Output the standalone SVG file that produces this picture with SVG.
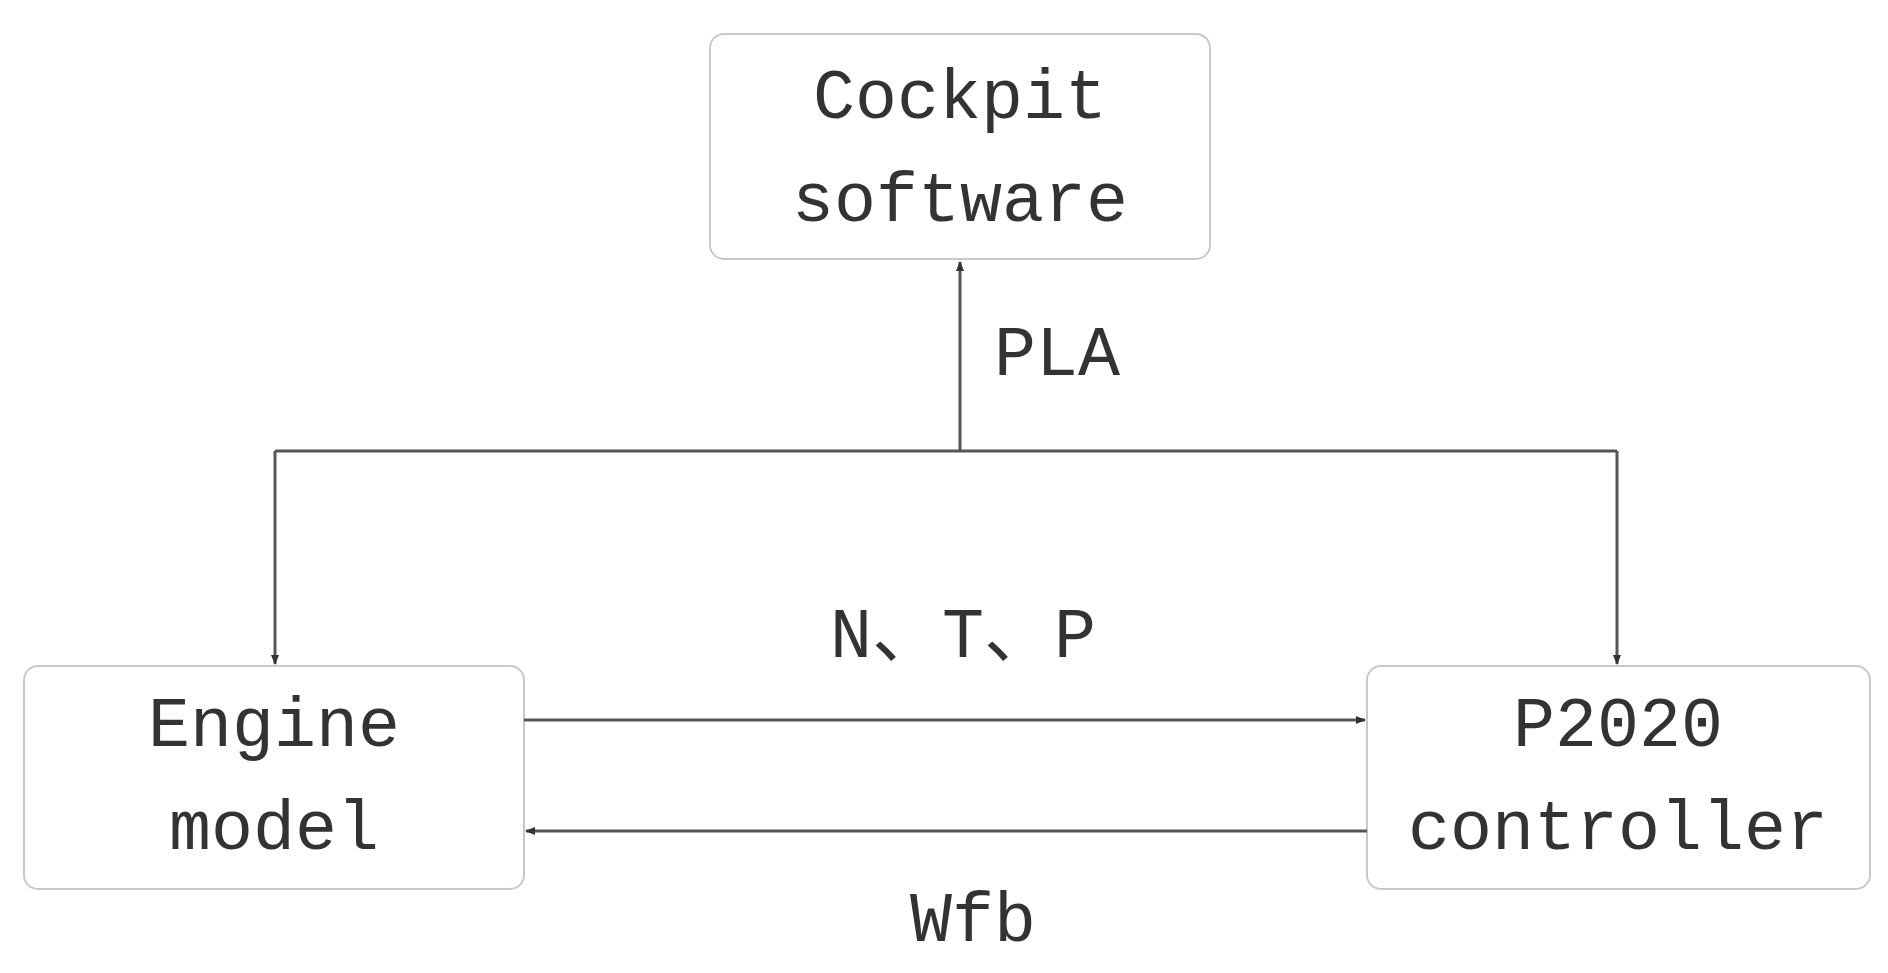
<svg xmlns="http://www.w3.org/2000/svg" width="1888" height="973" viewBox="0 0 1888 973">
<defs>
<style>
.box{fill:#fff;stroke:#c8c8c8;stroke-width:2}
.t{font-family:"Liberation Mono","Noto Sans CJK SC",monospace;font-size:70px;fill:#333;text-anchor:middle}
.c{stroke:#555;stroke-width:3;fill:none}
</style>
<marker id="a" markerWidth="10" markerHeight="10" refX="9" refY="5" orient="auto" markerUnits="userSpaceOnUse"><path d="M0,1 L10,5 L0,9z" fill="#333"/></marker>
</defs>
<rect width="1888" height="973" fill="#fff"/>
<g id="cockpit"><rect class="box" x="710" y="34" width="500" height="225" rx="14"/><text class="t" x="960" y="118">Cockpit</text><text class="t" x="960" y="221">software</text></g>
<g id="engine"><rect class="box" x="24" y="666" width="500" height="223" rx="14"/><text class="t" x="274" y="746">Engine</text><text class="t" x="274" y="849">model</text></g>
<g id="p2020"><rect class="box" x="1367" y="666" width="503" height="223" rx="14"/><text class="t" x="1618" y="746">P2020</text><text class="t" x="1618" y="849">controller</text></g>
<g id="connectors">
<path class="c" d="M960,451 V262" marker-end="url(#a)"/>
<path class="c" d="M275,451 H1617"/>
<path class="c" d="M275,451 V664" marker-end="url(#a)"/>
<path class="c" d="M1617,451 V664" marker-end="url(#a)"/>
<path class="c" d="M524,720 H1365" marker-end="url(#a)"/>
<path class="c" d="M1367,831 H526" marker-end="url(#a)"/>
<text class="t" x="1057" y="375">PLA</text>
<text class="t" x="963" y="657">N、T、P</text>
<text class="t" x="973" y="941">Wfb</text>
</g>
</svg>
